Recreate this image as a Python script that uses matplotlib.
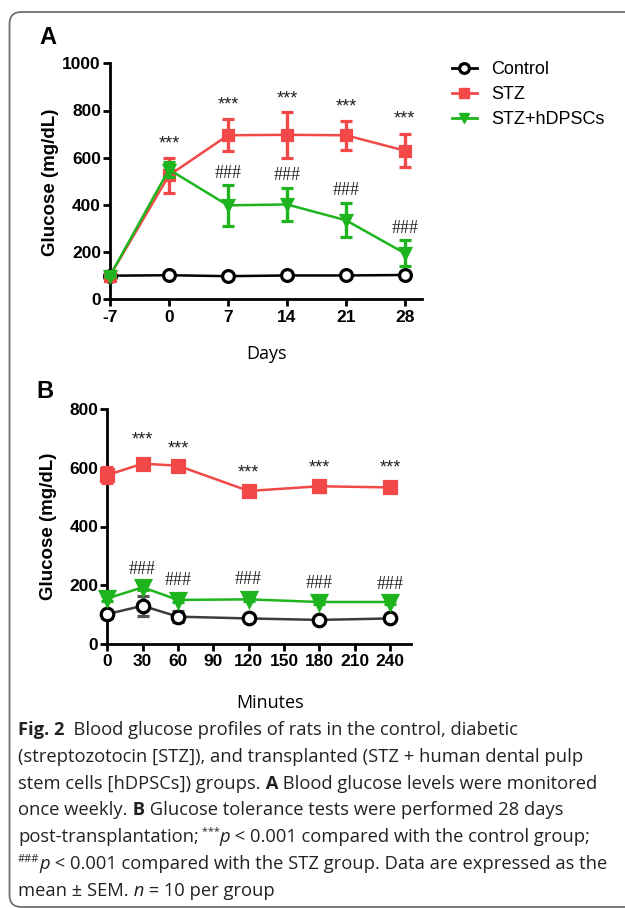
import numpy as np
import matplotlib.pyplot as plt
from matplotlib.patches import FancyBboxPatch
from matplotlib.lines import Line2D

# Panel A: weekly blood glucose (mg/dL)
days = [-7, 0, 7, 14, 21, 28]
ctrl_a = [100, 102, 98, 101, 101, 103]
ctrl_a_err = [4, 4, 4, 4, 4, 4]
stz_a = [100, 525, 695, 697, 695, 630]
stz_a_err = [5, 75, 67, 97, 61, 71]
dpsc_a = [100, 550, 398, 402, 335, 195]
dpsc_a_err = [5, 33, 87, 70, 72, 55]
star_a_x = [0, 7, 14, 21, 28]
star_a_y = [659, 822, 848, 815, 766]
hash_a_x = [7, 14, 21, 28]
hash_a_y = [534, 526, 460, 301]

# Panel B: glucose tolerance test
minutes = [0, 30, 60, 120, 180, 240]
ctrl_b = [102, 130, 93, 87, 82, 87]
ctrl_b_err = [12, 35, 18, 6, 5, 5]
stz_b = [575, 614, 607, 521, 537, 533]
stz_b_err = [28, 10, 8, 12, 18, 15]
dpsc_b = [155, 193, 150, 152, 143, 143]
dpsc_b_err = [8, 10, 6, 6, 6, 6]
star_b_x = [30, 60, 120, 180, 240]
star_b_y = [696, 663, 581, 599, 599]
hash_b_x = [30, 60, 120, 180, 240]
hash_b_y = [254, 215, 218, 207, 201]

labels = ['Control', 'STZ', 'STZ+hDPSCs']
RED = '#F24848'
GREEN = '#1EB41E'

plt.rcParams['font.family'] = ['Liberation Sans', 'DejaVu Sans']
plt.rcParams['axes.unicode_minus'] = False

W, H = 625, 908
fig = plt.figure(figsize=(W / 100, H / 100), dpi=100)

# background axes in pixel units for frame, labels and caption
bg = fig.add_axes([0, 0, 1, 1], zorder=-1)
bg.set_xlim(0, W)
bg.set_ylim(H, 0)
bg.axis('off')
frame = FancyBboxPatch((9.5, 12), 700, 895, boxstyle='round,pad=0,rounding_size=12',
                       fc='none', ec='#707070', lw=1.3)
bg.add_patch(frame)


def errline(ax, x, y, err, color, marker, ms, mfc, mec, z, lcolor=None, ecolor=None):
    eb = ax.errorbar(x, y, yerr=err, color=lcolor or color, ecolor=ecolor or color,
                     marker=marker, ms=ms, mfc=mfc, mec=mec, mew=2.3, lw=1.8,
                     elinewidth=2.4, capsize=4, capthick=2.4, zorder=z)
    eb.lines[0].set_clip_on(False)
    for a in list(eb.lines[1]) + list(eb.lines[2]):
        a.set_clip_on(False)
    return eb


def style_axes(ax):
    for s in ['top', 'right']:
        ax.spines[s].set_visible(False)
    for s in ['left', 'bottom']:
        ax.spines[s].set_linewidth(2)
    ax.tick_params(width=2, length=5, labelsize=12.5)
    ax.tick_params(axis='x', pad=2.5)
    ax.tick_params(axis='y', pad=1.5)
    for lab in ax.get_xticklabels() + ax.get_yticklabels():
        lab.set_fontweight('bold')


def marks(ax, xs, ys, s, size, family):
    for x, y in zip(xs, ys):
        ax.text(x, y, s, ha='center', va='center', fontsize=size, family=family,
                color='#222222')


# ---- Panel A ----
axA = fig.add_axes([110 / W, 1 - 299.3 / H, 311.7 / W, 236 / H])
errline(axA, days, ctrl_a, ctrl_a_err, 'black', 'o', 8.5, 'white', 'black', 3)
errline(axA, days, stz_a, stz_a_err, RED, 's', 7.5, RED, RED, 4)
errline(axA, days, dpsc_a, dpsc_a_err, GREEN, 'v', 7.5, GREEN, GREEN, 5)
axA.set_xlim(-7, 30)
axA.set_ylim(0, 1000)
axA.set_xticks(days)
axA.set_yticks(np.arange(0, 1001, 200))
style_axes(axA)
marks(axA, star_a_x, star_a_y, '***', 13, 'Liberation Sans')
marks(axA, hash_a_x, hash_a_y, '###', 13, 'Liberation Serif')

handles = [
    Line2D([], [], color='black', lw=2, marker='o', ms=7, mfc='white', mec='black', mew=2.3),
    Line2D([], [], color=RED, lw=2, marker='s', ms=7, mfc=RED, mec=RED),
    Line2D([], [], color=GREEN, lw=2, marker='v', ms=7, mfc=GREEN, mec=GREEN),
]
axA.legend(handles, labels, loc='upper left', bbox_to_anchor=(451.7 / W, 1 - 61.5 / H),
           bbox_transform=fig.transFigure, frameon=False, fontsize=13, handlelength=1.4,
           handletextpad=0.8, labelspacing=0.44, borderpad=0, borderaxespad=0)

# ---- Panel B ----
axB = fig.add_axes([107.3 / W, 1 - 644 / H, 303.4 / W, 235 / H])
errline(axB, minutes, ctrl_b, ctrl_b_err, 'black', 'o', 9, 'white', 'black', 3,
        lcolor='#3c3c3c', ecolor='#555555')
errline(axB, minutes, dpsc_b, dpsc_b_err, GREEN, 'v', 9.5, GREEN, GREEN, 4)
errline(axB, minutes, stz_b, stz_b_err, RED, 's', 8.5, RED, RED, 5)
axB.set_xlim(0, 257.6)
axB.set_ylim(0, 800)
axB.set_xticks(np.arange(0, 241, 30))
axB.set_yticks(np.arange(0, 801, 200))
style_axes(axB)
marks(axB, star_b_x, star_b_y, '***', 13, 'Liberation Sans')
marks(axB, hash_b_x, hash_b_y, '###', 13, 'Liberation Serif')

# panel letters and axis titles
bg.text(48, 38, 'A', ha='center', va='center', fontsize=17, fontweight='bold')
bg.text(45, 391, 'B', ha='center', va='center', fontsize=17, fontweight='bold')
bg.text(51, 182, 'Glucose (mg/dL)', rotation=90, ha='center', va='center',
        fontsize=13.5, fontweight='bold')
bg.text(49, 526, 'Glucose (mg/dL)', rotation=90, ha='center', va='center',
        fontsize=13.5, fontweight='bold')
bg.text(266, 354, 'Days', ha='center', va='center', fontsize=13, family='Open Sans')
bg.text(270, 703, 'Minutes', ha='center', va='center', fontsize=13, family='Open Sans')

# caption, drawn piece by piece: (text, style) with style n/b/i/sup
caption = [
    [('Fig. 2', 'b'), ('  Blood glucose profiles of rats in the control, diabetic', 'n')],
    [('(streptozotocin [STZ]), and transplanted (STZ + human dental pulp', 'n')],
    [('stem cells [hDPSCs]) groups.', 'n'), (' A', 'b'),
     (' Blood glucose levels were monitored', 'n')],
    [('once weekly.', 'n'), (' B', 'b'), (' Glucose tolerance tests were performed 28 days', 'n')],
    [('post-transplantation;', 'n'), (' ***', 'sup'), ('p', 'i'),
     (' < 0.001 compared with the control group;', 'n')],
    [('###', 'sup'), ('p', 'i'), (' < 0.001 compared with the STZ group. Data are expressed as the', 'n')],
    [('mean ± SEM.', 'n'), (' n', 'i'), (' = 10 per group', 'n')],
]
cap_size = 13.2
renderer = fig.canvas.get_renderer()
for i, line in enumerate(caption):
    x = 18
    y = 735 + 26.8 * i
    for txt, st in line:
        kw = dict(fontsize=cap_size, family='Open Sans', color='#222222')
        yy = y
        if st == 'b':
            kw['fontweight'] = 'bold'
        elif st == 'i':
            kw['fontstyle'] = 'italic'
        elif st == 'sup':
            kw['fontsize'] = cap_size * 0.6
            yy = y - 7
        t = bg.text(x, yy, txt, ha='left', va='baseline', **kw)
        x += t.get_window_extent(renderer).width

fig.savefig('out.png', dpi=100)
